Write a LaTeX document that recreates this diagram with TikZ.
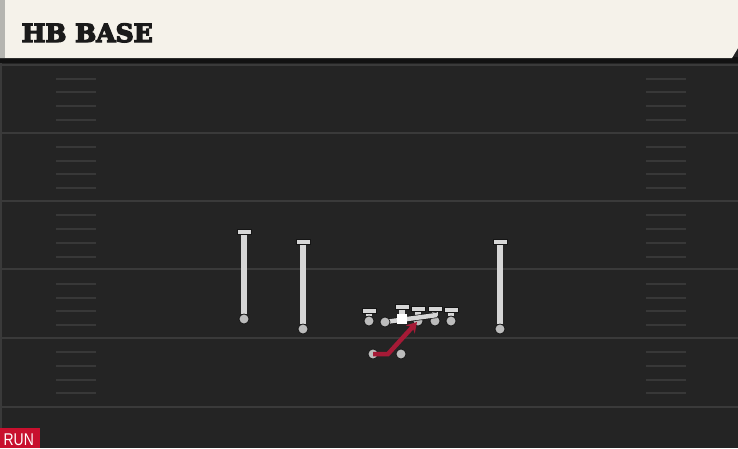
\documentclass[tikz,border=0pt]{standalone}
\usepackage{fontspec}
\newfontfamily\titlefont{DejaVu Serif}
\newfontfamily\runfont{Liberation Sans}
\usetikzlibrary{arrows.meta}
\definecolor{fieldbg}{HTML}{242424}
\definecolor{yardline}{HTML}{3A3A3A}
\definecolor{hashc}{HTML}{383838}
\definecolor{cream}{HTML}{F5F2EA}
\definecolor{stripc}{HTML}{B5B5B0}
\definecolor{shadowc}{HTML}{121212}
\definecolor{plgray}{HTML}{D6D6D6}
\definecolor{ploutc}{HTML}{151515}
\definecolor{runred}{HTML}{C8102E}
\definecolor{pathred}{HTML}{A51A36}
\definecolor{titleink}{HTML}{1A1A1A}
\newcommand{\heavytext}[1]{\special{pdf:literal direct 2 Tr 1.3 w}#1\special{pdf:literal direct 0 Tr}}
\tikzset{
  yard/.style={draw=yardline, line width=2pt},
  hashmark/.style={draw=hashc, line width=2pt},
  stemline/.style={draw=ploutc, line width=0.7pt, double=plgray, double distance=5.5pt},
  tbar/.style={rectangle, fill=plgray, draw=ploutc, line width=0.7pt, minimum width=14pt, minimum height=5.5pt, inner sep=0pt},
  spot/.style={circle, fill=plgray!88!black, draw=ploutc, line width=0.7pt, minimum size=10pt, inner sep=0pt},
  csquare/.style={rectangle, fill=white, minimum size=10pt, inner sep=0pt},
  runpath/.style={draw=pathred, line width=4.5pt, -{Stealth[length=10pt, width=12pt]}},
  blockline/.style={draw=ploutc, line width=0.7pt, double=plgray, double distance=4.5pt}
}
\begin{document}
\begin{tikzpicture}[x=1pt, y=-1pt]
\useasboundingbox (0,0) rectangle (738,448);
\fill[fieldbg] (0,0) rectangle (738,448);
% left border of field
\draw[draw=yardline, line width=2pt] (1,60) -- (1,448);
% yard lines
\foreach \yy in {65,133,201,269,338,407} {
  \draw[yard] (0,\yy) -- (738,\yy);
}
% hash marks
\foreach \s in {0,...,4} {
  \foreach \k in {1,...,4} {
    \pgfmathsetmacro{\hy}{65 + \s*68.4 + \k*13.68}
    \draw[hashmark] (56,\hy) -- (96,\hy);
    \draw[hashmark] (646,\hy) -- (686,\hy);
  }
}
% header
\fill[shadowc] (0,57) rectangle (738,63);
\fill[cream] (0,0) -- (738,0) -- (738,48) -- (732,58) -- (0,58) -- cycle;
\fill[stripc] (0,0) rectangle (5,58);
\node[anchor=base west, inner sep=0pt, text=titleink, font=\titlefont\bfseries\fontsize{25}{25}\selectfont] (title) at (21.5,42) {\heavytext{HB BASE}};

% receivers
\foreach \xx/\yt/\yb/\nm in {244/232/319/wra, 303/242/329/wrb, 500/242/329/wrc} {
  \node[tbar] (\nm t) at (\xx,\yt) {};
  \node[spot] (\nm) at (\xx,\yb) {};
  \draw[stemline] (\nm t.south) -- (\nm.north);
  \node[tbar] at (\xx,\yt) {};
  \node[spot] at (\xx,\yb) {};
}

% linemen
\foreach \xx/\yt/\nm in {369/311/lt, 418/309/rg, 435/309/rt, 451/310/te} {
  \node[tbar] (\nm t) at (\xx,\yt) {};
  \node[spot] (\nm) at (\xx,321) {};
  \draw[stemline] (\nm t.south) -- (\nm.north);
  \node[tbar] at (\xx,\yt) {};
  \node[spot] at (\xx,321) {};
}
% center
\node[tbar] (ct) at (402,307) {};
\node[csquare] (c) at (402,319) {};
\draw[stemline] (ct.south) -- (c.north);
\node[tbar] at (402,307) {};
% left guard with block line
\node[spot] (lg) at (385,322) {};
\coordinate (lgend) at (437,315);
\draw[blockline] (lg.center) -- (lgend);
\node[csquare] at (402,319) {};
\node[tbar] at (435,309) {};
\node[spot] at (385,322) {};

% backs
\node[spot] (fb) at (401,354) {};
\node[spot] (rb) at (373,354) {};
\coordinate (rbturn) at (388,354);
\coordinate (hole) at (417,322);
\draw[runpath] (rb.center) -- (rbturn) -- (hole);

% run label
\fill[runred] (0,428) rectangle (40,448);
\node[anchor=base west, inner sep=0pt, text=white, font=\runfont\fontsize{17}{17}\selectfont, xscale=0.82] (runlabel) at (3.5,445) {RUN};
\end{tikzpicture}
\end{document}
